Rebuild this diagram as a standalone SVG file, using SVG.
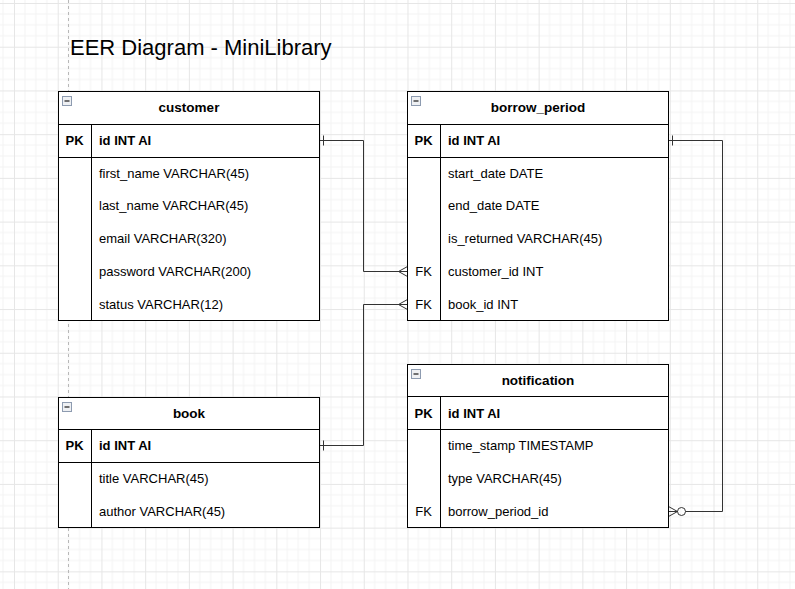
<svg xmlns="http://www.w3.org/2000/svg" width="795" height="589" viewBox="0 0 795 589">
  <defs>
    <pattern id="grid" patternUnits="userSpaceOnUse" x="14" y="3" width="43.72" height="43.72">
      <path d="M10.93 0V43.72M21.86 0V43.72M32.79 0V43.72M0 10.93H43.72M0 21.86H43.72M0 32.79H43.72" stroke="#f4f4f4" stroke-width="1" fill="none"/>
      <path d="M0.5 0V43.72M0 0.5H43.72" stroke="#e6e6e6" stroke-width="1" fill="none"/>
    </pattern>
    <g id="collapse">
      <rect x="0" y="0" width="9" height="9" fill="#eef0f3" stroke="#8d9bb0" stroke-width="1"/>
      <line x1="2" y1="4.5" x2="7" y2="4.5" stroke="#444" stroke-width="1.5"/>
    </g>
  </defs>
  <style>
    .tbl { fill: #ffffff; stroke: #000000; stroke-width: 1; }
    .sep { stroke: #000000; stroke-width: 1; fill: none; }
    .hdr { font-family: "Liberation Sans", Arial, sans-serif; font-size: 13.5px; font-weight: bold; fill: #000; text-anchor: middle; }
    .key { font-family: "Liberation Sans", Arial, sans-serif; font-size: 13px; fill: #000; text-anchor: middle; }
    .pk { font-weight: bold; }
    .row { font-family: "Liberation Sans", Arial, sans-serif; font-size: 13px; fill: #000; }
    .conn { stroke: #333333; stroke-width: 1; fill: none; }
    .title { font-family: "Liberation Sans", Arial, sans-serif; font-size: 22px; fill: #000; }
  </style>
  <rect x="0" y="0" width="795" height="589" fill="#ffffff"/>
  <rect x="0" y="0" width="795" height="589" fill="url(#grid)"/>
  <line x1="68.5" y1="0" x2="68.5" y2="589" stroke="#b8b8b8" stroke-width="1" stroke-dasharray="3,3"/>

  <text class="title" x="70" y="55">EER Diagram - MiniLibrary</text>

  <g id="connectors">
    <!-- customer.id -> borrow_period.customer_id -->
    <path class="conn" d="M319.5 140.5H363.5V271.5H407.5"/>
    <path class="conn" d="M323.5 135.5V145.5"/>
    <path class="conn" d="M407.5 266.5L398.5 271.5L407.5 276.5"/>
    <!-- book.id -> borrow_period.book_id -->
    <path class="conn" d="M319.5 445.5H363.5V304.5H407.5"/>
    <path class="conn" d="M323.5 440.5V450.5"/>
    <path class="conn" d="M407.5 299.5L398.5 304.5L407.5 309.5"/>
    <!-- borrow_period.id -> notification.borrow_period_id -->
    <path class="conn" d="M668.5 140.5H722.5V511.5H685.5"/>
    <path class="conn" d="M672.5 135.5V145.5"/>
    <circle class="conn" cx="681.5" cy="511.5" r="4" fill="#ffffff"/>
    <path class="conn" d="M668.5 506.5L677.5 511.5L668.5 516.5M668.5 511.5H677.5"/>
  </g>

  <g id="customer">
    <rect class="tbl" x="58.5" y="91.5" width="261" height="229"/>
    <path class="sep" d="M58.5 124.5H319.5M58.5 157.5H319.5M91.5 124.5V320.5"/>
    <use href="#collapse" x="62.5" y="96.5"/>
    <text class="hdr" x="189" y="112">customer</text>
    <text class="key pk" x="74.5" y="145">PK</text>
    <text class="row pk" x="99" y="145">id INT AI</text>
    <text class="row" x="99" y="178">first_name VARCHAR(45)</text>
    <text class="row" x="99" y="210">last_name VARCHAR(45)</text>
    <text class="row" x="99" y="243">email VARCHAR(320)</text>
    <text class="row" x="99" y="276">password VARCHAR(200)</text>
    <text class="row" x="99" y="309">status VARCHAR(12)</text>
  </g>

  <g id="borrow_period">
    <rect class="tbl" x="407.5" y="91.5" width="261" height="229"/>
    <path class="sep" d="M407.5 124.5H668.5M407.5 157.5H668.5M440.5 124.5V320.5"/>
    <use href="#collapse" x="411.5" y="96.5"/>
    <text class="hdr" x="538" y="112">borrow_period</text>
    <text class="key pk" x="423.5" y="145">PK</text>
    <text class="row pk" x="448" y="145">id INT AI</text>
    <text class="row" x="448" y="178">start_date DATE</text>
    <text class="row" x="448" y="210">end_date DATE</text>
    <text class="row" x="448" y="243">is_returned VARCHAR(45)</text>
    <text class="key" x="423.5" y="276">FK</text>
    <text class="row" x="448" y="276">customer_id INT</text>
    <text class="key" x="423.5" y="309">FK</text>
    <text class="row" x="448" y="309">book_id INT</text>
  </g>

  <g id="book">
    <rect class="tbl" x="58.5" y="397.5" width="261" height="130"/>
    <path class="sep" d="M58.5 429.5H319.5M58.5 462.5H319.5M91.5 429.5V527.5"/>
    <use href="#collapse" x="62.5" y="402.5"/>
    <text class="hdr" x="189" y="418">book</text>
    <text class="key pk" x="74.5" y="450">PK</text>
    <text class="row pk" x="99" y="450">id INT AI</text>
    <text class="row" x="99" y="483">title VARCHAR(45)</text>
    <text class="row" x="99" y="516">author VARCHAR(45)</text>
  </g>

  <g id="notification">
    <rect class="tbl" x="407.5" y="364.5" width="261" height="163"/>
    <path class="sep" d="M407.5 396.5H668.5M407.5 429.5H668.5M440.5 396.5V527.5"/>
    <use href="#collapse" x="411.5" y="369.5"/>
    <text class="hdr" x="538" y="385">notification</text>
    <text class="key pk" x="423.5" y="418">PK</text>
    <text class="row pk" x="448" y="418">id INT AI</text>
    <text class="row" x="448" y="450">time_stamp TIMESTAMP</text>
    <text class="row" x="448" y="483">type VARCHAR(45)</text>
    <text class="key" x="423.5" y="516">FK</text>
    <text class="row" x="448" y="516">borrow_period_id</text>
  </g>
</svg>
